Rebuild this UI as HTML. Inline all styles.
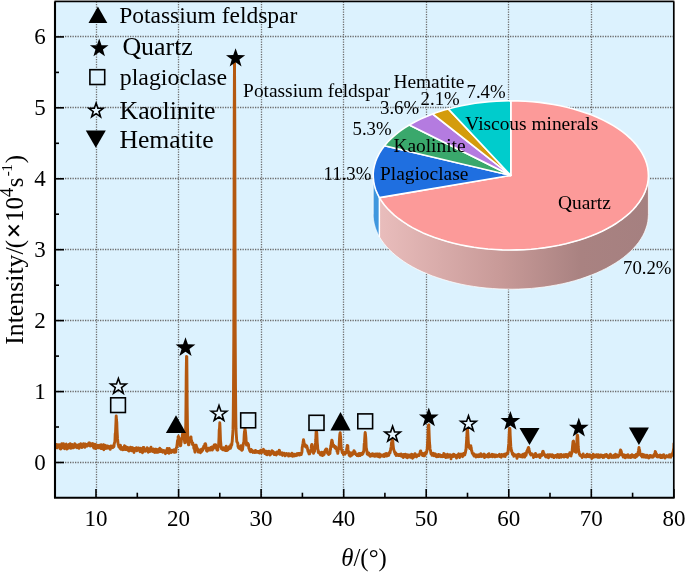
<!DOCTYPE html>
<html><head><meta charset="utf-8"><title>XRD pattern</title>
<style>
html,body{margin:0;padding:0;background:#fff;}
svg{display:block;font-family:"Liberation Serif",serif;fill:#000;}
</style></head><body>
<svg width="685" height="572" viewBox="0 0 685 572">
<defs>
<linearGradient id="qs" x1="0" y1="0" x2="1" y2="0">
<stop offset="0" stop-color="#e9bdbc"/><stop offset="0.45" stop-color="#c89a98"/><stop offset="0.75" stop-color="#a98281"/><stop offset="1" stop-color="#a58080"/>
</linearGradient>
<clipPath id="cp"><rect x="55.0" y="1.35" width="618.8" height="496.34999999999997"/></clipPath>
</defs>
<rect x="0" y="0" width="685" height="572" fill="#fff"/>
<rect x="55.0" y="1.35" width="618.8" height="496.34999999999997" fill="#dcf2fe"/>
<g stroke="#6c6c6c" stroke-width="1.3" stroke-dasharray="1.3 1.2" fill="none">
<line x1="96.5" y1="1.4" x2="96.5" y2="497.7"/><line x1="178.5" y1="1.4" x2="178.5" y2="497.7"/><line x1="261.5" y1="1.4" x2="261.5" y2="497.7"/><line x1="343.5" y1="1.4" x2="343.5" y2="497.7"/><line x1="426.5" y1="1.4" x2="426.5" y2="497.7"/><line x1="508.5" y1="1.4" x2="508.5" y2="497.7"/><line x1="591.5" y1="1.4" x2="591.5" y2="497.7"/><line x1="55.0" y1="462.5" x2="673.8" y2="462.5"/><line x1="55.0" y1="391.5" x2="673.8" y2="391.5"/><line x1="55.0" y1="320.5" x2="673.8" y2="320.5"/><line x1="55.0" y1="249.5" x2="673.8" y2="249.5"/><line x1="55.0" y1="178.5" x2="673.8" y2="178.5"/><line x1="55.0" y1="107.5" x2="673.8" y2="107.5"/><line x1="55.0" y1="36.5" x2="673.8" y2="36.5"/>
</g>
<g>
<path d="M648.4,175.4 L648.2,178.9 L647.8,182.5 L647.0,186.0 L645.9,189.4 L644.6,192.9 L642.9,196.3 L640.9,199.7 L638.7,203.0 L636.1,206.2 L633.3,209.4 L630.2,212.5 L626.8,215.5 L623.2,218.5 L619.3,221.3 L615.2,224.0 L610.8,226.6 L606.2,229.2 L601.4,231.5 L596.4,233.8 L591.2,235.9 L585.8,237.9 L580.3,239.8 L574.6,241.5 L568.8,243.1 L562.8,244.5 L556.7,245.7 L550.5,246.8 L544.2,247.8 L537.9,248.5 L531.5,249.2 L525.0,249.6 L518.5,249.9 L512.0,250.0 L505.5,249.9 L499.0,249.7 L492.5,249.3 L486.1,248.8 L479.7,248.1 L473.4,247.2 L467.2,246.2 L461.1,245.0 L455.0,243.6 L449.2,242.1 L443.4,240.4 L437.8,238.6 L432.4,236.7 L427.1,234.6 L422.0,232.4 L417.2,230.1 L412.5,227.6 L408.0,225.0 L403.8,222.3 L399.9,219.5 L396.1,216.6 L392.7,213.6 L389.5,210.6 L386.5,207.4 L383.9,204.2 L381.5,200.9 L379.4,197.6 L379.4,236.8 L381.5,240.1 L383.9,243.4 L386.5,246.6 L389.5,249.8 L392.7,252.8 L396.1,255.8 L399.9,258.7 L403.8,261.5 L408.0,264.2 L412.5,266.8 L417.2,269.3 L422.0,271.6 L427.1,273.8 L432.4,275.9 L437.8,277.8 L443.4,279.6 L449.2,281.3 L455.0,282.8 L461.1,284.2 L467.2,285.4 L473.4,286.4 L479.7,287.3 L486.1,288.0 L492.5,288.5 L499.0,288.9 L505.5,289.1 L512.0,289.2 L518.5,289.1 L525.0,288.8 L531.5,288.4 L537.9,287.7 L544.2,287.0 L550.5,286.0 L556.7,284.9 L562.8,283.7 L568.8,282.3 L574.6,280.7 L580.3,279.0 L585.8,277.1 L591.2,275.1 L596.4,273.0 L601.4,270.7 L606.2,268.4 L610.8,265.8 L615.2,263.2 L619.3,260.5 L623.2,257.7 L626.8,254.7 L630.2,251.7 L633.3,248.6 L636.1,245.4 L638.7,242.2 L640.9,238.9 L642.9,235.5 L644.6,232.1 L645.9,228.6 L647.0,225.2 L647.8,221.7 L648.2,218.1 L648.4,214.6Z" fill="url(#qs)" stroke="#fff" stroke-opacity="0.75" stroke-width="1"/><path d="M379.4,197.6 L379.2,197.2 L379.0,196.8 L378.8,196.5 L378.6,196.1 L378.4,195.8 L378.2,195.4 L378.1,195.0 L377.9,194.7 L377.7,194.3 L377.5,194.0 L377.4,193.6 L377.2,193.2 L377.0,192.9 L376.9,192.5 L376.7,192.1 L376.6,191.8 L376.4,191.4 L376.3,191.0 L376.1,190.7 L376.0,190.3 L375.8,189.9 L375.7,189.6 L375.6,189.2 L375.4,188.8 L375.3,188.5 L375.2,188.1 L375.1,187.7 L375.0,187.3 L374.9,187.0 L374.8,186.6 L374.7,186.2 L374.6,185.9 L374.5,185.5 L374.4,185.1 L374.3,184.7 L374.2,184.4 L374.1,184.0 L374.0,183.6 L374.0,183.3 L373.9,182.9 L373.8,182.5 L373.8,182.1 L373.7,181.8 L373.6,181.4 L373.6,181.0 L373.5,180.6 L373.5,180.3 L373.5,179.9 L373.4,179.5 L373.4,179.1 L373.3,178.8 L373.3,178.4 L373.3,178.0 L373.3,177.6 L373.2,177.3 L373.2,176.9 L373.2,176.5 L373.2,176.1 L373.2,175.8 L373.2,175.4 L373.2,214.6 L373.2,215.0 L373.2,215.3 L373.2,215.7 L373.2,216.1 L373.2,216.5 L373.3,216.8 L373.3,217.2 L373.3,217.6 L373.3,218.0 L373.4,218.3 L373.4,218.7 L373.5,219.1 L373.5,219.5 L373.5,219.8 L373.6,220.2 L373.6,220.6 L373.7,221.0 L373.8,221.3 L373.8,221.7 L373.9,222.1 L374.0,222.5 L374.0,222.8 L374.1,223.2 L374.2,223.6 L374.3,223.9 L374.4,224.3 L374.5,224.7 L374.6,225.1 L374.7,225.4 L374.8,225.8 L374.9,226.2 L375.0,226.5 L375.1,226.9 L375.2,227.3 L375.3,227.7 L375.4,228.0 L375.6,228.4 L375.7,228.8 L375.8,229.1 L376.0,229.5 L376.1,229.9 L376.3,230.2 L376.4,230.6 L376.6,231.0 L376.7,231.3 L376.9,231.7 L377.0,232.1 L377.2,232.4 L377.4,232.8 L377.5,233.2 L377.7,233.5 L377.9,233.9 L378.1,234.2 L378.2,234.6 L378.4,235.0 L378.6,235.3 L378.8,235.7 L379.0,236.0 L379.2,236.4 L379.4,236.8Z" fill="#3f97de" stroke="#fff" stroke-opacity="0.75" stroke-width="1"/><path d="M510.8,175.4 L510.8,100.8 L518.0,100.9 L525.2,101.2 L532.4,101.7 L539.5,102.4 L546.5,103.4 L553.4,104.5 L560.2,105.8 L566.9,107.3 L573.4,109.0 L579.8,110.9 L585.9,112.9 L591.9,115.1 L597.6,117.5 L603.1,120.1 L608.3,122.8 L613.3,125.6 L618.0,128.6 L622.3,131.7 L626.4,134.9 L630.2,138.3 L633.6,141.7 L636.7,145.3 L639.4,148.9 L641.8,152.6 L643.8,156.4 L645.5,160.2 L646.8,164.0 L647.7,167.9 L648.2,171.8 L648.4,175.7 L648.2,179.6 L647.6,183.6 L646.6,187.4 L645.2,191.3 L643.5,195.1 L641.4,198.8 L639.0,202.5 L636.2,206.1 L633.0,209.7 L629.6,213.1 L625.7,216.4 L621.6,219.6 L617.2,222.7 L612.4,225.7 L607.4,228.5 L602.2,231.2 L596.6,233.7 L590.9,236.1 L584.9,238.3 L578.7,240.3 L572.3,242.1 L565.8,243.8 L559.1,245.3 L552.3,246.5 L545.3,247.6 L538.3,248.5 L531.2,249.2 L524.0,249.7 L516.8,249.9 L509.6,250.0 L502.3,249.9 L495.1,249.5 L488.0,249.0 L480.9,248.2 L473.9,247.3 L467.0,246.1 L460.2,244.8 L453.6,243.2 L447.1,241.5 L440.8,239.6 L434.6,237.5 L428.7,235.3 L423.0,232.9 L417.6,230.3 L412.4,227.6 L407.5,224.7 L402.9,221.7 L398.5,218.5 L394.5,215.3 L390.8,211.9 L387.4,208.5 L384.4,204.9 L381.7,201.3 L379.4,197.6Z" fill="#fc9a99" stroke="#fff" stroke-width="1.6" stroke-linejoin="round"/><path d="M510.8,175.4 L379.4,197.6 L377.4,193.6 L375.7,189.7 L374.5,185.6 L373.7,181.6 L373.3,177.5 L373.2,173.5 L373.6,169.4 L374.5,165.3 L375.7,161.3 L377.3,157.3 L379.3,153.4 L381.7,149.6 L384.5,145.8Z" fill="#1f6fe0" stroke="#fff" stroke-width="1.6" stroke-linejoin="round"/><path d="M510.8,175.4 L384.5,145.8 L387.7,142.0 L391.3,138.4 L395.3,134.8 L399.6,131.4 L404.3,128.1 L409.3,125.0Z" fill="#3aa86c" stroke="#fff" stroke-width="1.6" stroke-linejoin="round"/><path d="M510.8,175.4 L409.3,125.0 L414.7,122.0 L420.5,119.1 L426.5,116.5 L432.7,114.0Z" fill="#b47be0" stroke="#fff" stroke-width="1.6" stroke-linejoin="round"/><path d="M510.8,175.4 L432.7,114.0 L436.5,112.6 L440.4,111.3 L444.3,110.1 L448.3,108.9Z" fill="#d49c0c" stroke="#fff" stroke-width="1.6" stroke-linejoin="round"/><path d="M510.8,175.4 L448.3,108.9 L454.8,107.2 L461.5,105.8 L468.3,104.5 L475.2,103.3 L482.2,102.4 L489.3,101.7 L496.4,101.2 L503.6,100.9 L510.8,100.8Z" fill="#00cccc" stroke="#fff" stroke-width="1.6" stroke-linejoin="round"/><line x1="379.4" y1="197.6" x2="379.4" y2="236.8" stroke="#fff" stroke-width="1.4"/>
</g>
<polyline clip-path="url(#cp)" points="55.0,448.8 55.2,446.1 55.5,446.7 55.8,447.2 56.0,445.7 56.2,446.6 56.5,446.6 56.8,444.5 57.0,447.9 57.2,447.4 57.5,445.8 57.8,446.4 58.0,447.2 58.2,446.3 58.5,446.3 58.8,444.8 59.0,447.2 59.2,446.7 59.5,446.9 59.8,444.6 60.0,448.6 60.2,446.7 60.5,446.0 60.8,449.0 61.0,446.4 61.2,444.7 61.5,446.0 61.8,443.6 62.0,447.8 62.2,445.9 62.5,445.5 62.8,447.8 63.0,444.4 63.2,447.1 63.5,443.8 63.8,445.6 64.0,444.9 64.2,448.2 64.5,448.6 64.8,446.0 65.0,447.4 65.2,446.1 65.5,447.0 65.8,445.4 66.0,444.2 66.2,444.1 66.5,446.8 66.8,449.1 67.0,446.6 67.2,445.6 67.5,448.7 67.8,446.6 68.0,446.4 68.2,446.6 68.5,446.1 68.8,445.8 69.0,444.4 69.2,446.8 69.5,446.1 69.8,447.7 70.0,445.7 70.2,443.8 70.5,446.0 70.8,448.3 71.0,445.6 71.2,445.0 71.5,444.6 71.8,444.7 72.0,445.7 72.2,444.5 72.5,447.9 72.8,445.6 73.0,446.1 73.2,447.8 73.5,447.8 73.8,445.6 74.0,446.3 74.2,446.8 74.5,445.6 74.8,443.6 75.0,446.7 75.2,446.9 75.5,446.3 75.8,444.6 76.0,445.5 76.2,445.0 76.5,445.3 76.8,447.3 77.0,447.6 77.2,446.5 77.5,446.3 77.8,446.5 78.0,445.6 78.2,445.5 78.5,444.7 78.8,445.5 79.0,448.4 79.2,446.6 79.5,445.1 79.8,444.9 80.0,444.4 80.2,445.9 80.5,445.9 80.8,443.6 81.0,446.0 81.2,444.6 81.5,447.2 81.8,445.5 82.0,447.5 82.2,444.7 82.5,444.9 82.8,445.6 83.0,446.6 83.2,446.0 83.5,443.6 83.8,445.4 84.0,445.2 84.2,444.6 84.5,444.3 84.8,447.4 85.0,444.6 85.2,444.0 85.5,445.9 85.8,445.2 86.0,444.9 86.2,446.0 86.5,445.6 86.8,445.4 87.0,446.2 87.2,445.4 87.5,444.3 87.8,444.6 88.0,444.5 88.2,445.4 88.5,443.8 88.8,442.9 89.0,445.4 89.2,443.6 89.5,442.9 89.8,445.9 90.0,444.5 90.2,446.1 90.5,444.8 90.8,444.1 91.0,444.0 91.2,445.0 91.5,445.3 91.8,444.6 92.0,445.4 92.2,443.8 92.5,445.8 92.8,443.6 93.0,445.6 93.2,446.8 93.5,447.3 93.8,448.1 94.0,444.1 94.2,447.0 94.5,447.6 94.8,447.3 95.0,445.0 95.2,446.7 95.5,448.5 95.8,444.4 96.0,446.9 96.2,447.7 96.5,445.5 96.8,447.1 97.0,445.1 97.2,445.5 97.5,445.5 97.8,446.8 98.0,446.5 98.2,447.8 98.5,445.5 98.8,446.5 99.0,447.9 99.2,447.4 99.5,445.2 99.8,447.6 100.0,446.3 100.2,447.4 100.5,447.3 100.8,448.4 101.0,447.1 101.2,444.8 101.5,445.4 101.8,448.0 102.0,446.8 102.2,448.5 102.5,447.5 102.8,446.3 103.0,448.5 103.2,446.2 103.5,444.8 103.8,449.7 104.0,445.0 104.2,448.0 104.5,448.4 104.8,447.5 105.0,445.3 105.2,448.5 105.5,445.6 105.8,445.7 106.0,446.9 106.2,448.3 106.5,447.7 106.8,448.3 107.0,446.8 107.2,447.2 107.5,446.0 107.8,447.0 108.0,448.1 108.2,447.0 108.5,447.9 108.8,446.7 109.0,446.6 109.2,447.4 109.5,447.1 109.8,448.0 110.0,447.5 110.2,449.3 110.5,447.0 110.8,446.9 111.0,445.9 111.2,447.1 111.5,447.9 111.8,446.1 112.0,446.8 112.2,447.6 112.5,446.5 112.8,445.9 113.0,447.5 113.2,446.2 113.5,446.3 113.8,446.8 114.0,446.3 114.2,443.9 114.5,442.8 114.8,442.3 115.0,439.5 115.2,433.9 115.5,432.7 115.8,425.3 116.0,420.8 116.2,415.9 116.5,420.0 116.8,422.4 117.0,428.9 117.2,432.8 117.5,438.4 117.8,441.1 118.0,442.9 118.2,444.7 118.5,445.1 118.8,446.7 119.0,445.5 119.2,445.2 119.5,446.6 119.8,447.6 120.0,448.5 120.2,448.2 120.5,445.3 120.8,448.0 121.0,449.3 121.2,447.8 121.5,447.2 121.8,448.2 122.0,447.4 122.2,448.8 122.5,448.1 122.8,449.7 123.0,448.8 123.2,447.4 123.5,449.0 123.8,449.4 124.0,447.7 124.2,447.9 124.5,445.8 124.8,449.5 125.0,447.8 125.2,446.1 125.5,446.5 125.8,448.3 126.0,449.5 126.2,448.5 126.5,449.2 126.8,447.4 127.0,447.2 127.2,449.7 127.5,449.3 127.8,448.7 128.0,450.3 128.2,447.7 128.5,448.4 128.8,450.0 129.0,451.0 129.2,448.9 129.5,450.8 129.8,448.3 130.0,449.3 130.2,448.8 130.5,447.2 130.8,449.3 131.0,450.1 131.2,448.9 131.5,449.0 131.8,450.7 132.0,447.7 132.2,447.5 132.5,448.4 132.8,447.8 133.0,450.7 133.2,449.6 133.5,448.3 133.8,448.6 134.0,452.5 134.2,448.6 134.5,448.5 134.8,449.7 135.0,450.1 135.2,449.6 135.5,448.4 135.8,448.1 136.0,450.1 136.2,449.4 136.5,447.6 136.8,450.8 137.0,450.4 137.2,449.3 137.5,449.2 137.8,449.8 138.0,448.8 138.2,448.1 138.5,450.0 138.8,448.0 139.0,450.1 139.2,448.1 139.5,449.6 139.8,449.6 140.0,451.7 140.2,448.6 140.5,448.2 140.8,449.1 141.0,448.6 141.2,449.2 141.5,450.3 141.8,450.7 142.0,451.7 142.2,449.1 142.5,452.8 142.8,452.1 143.0,449.7 143.2,447.4 143.5,449.9 143.8,450.1 144.0,447.5 144.2,450.1 144.5,449.8 144.8,449.2 145.0,450.8 145.2,451.2 145.5,449.6 145.8,450.4 146.0,449.4 146.2,449.3 146.5,450.3 146.8,450.8 147.0,449.6 147.2,447.8 147.5,450.9 147.8,448.5 148.0,450.4 148.2,452.2 148.5,450.3 148.8,449.1 149.0,448.8 149.2,451.6 149.5,450.4 149.8,451.0 150.0,451.4 150.2,450.4 150.5,450.1 150.8,449.5 151.0,447.2 151.2,448.9 151.5,450.5 151.8,450.4 152.0,451.0 152.2,450.4 152.5,450.8 152.8,451.5 153.0,449.7 153.2,450.3 153.5,449.0 153.8,451.7 154.0,450.7 154.2,451.2 154.5,452.4 154.8,451.9 155.0,450.7 155.2,451.6 155.5,449.3 155.8,451.3 156.0,451.0 156.2,449.1 156.5,452.3 156.8,450.1 157.0,451.6 157.2,450.5 157.5,452.0 157.8,452.3 158.0,450.1 158.2,449.4 158.5,450.9 158.8,451.9 159.0,450.7 159.2,450.4 159.5,451.6 159.8,448.2 160.0,450.4 160.2,449.7 160.5,451.5 160.8,450.4 161.0,450.0 161.2,450.8 161.5,449.7 161.8,451.2 162.0,450.5 162.2,450.9 162.5,450.5 162.8,452.2 163.0,451.2 163.2,451.9 163.5,451.8 163.8,450.5 164.0,452.0 164.2,451.8 164.5,451.7 164.8,451.0 165.0,451.0 165.2,452.3 165.5,453.7 165.8,450.6 166.0,452.0 166.2,451.0 166.5,452.2 166.8,451.9 167.0,452.5 167.2,448.5 167.5,450.8 167.8,450.4 168.0,451.3 168.2,450.6 168.5,450.7 168.8,452.1 169.0,453.3 169.2,448.4 169.5,451.0 169.8,451.7 170.0,451.3 170.2,451.0 170.5,449.9 170.8,450.3 171.0,452.0 171.2,452.4 171.5,451.3 171.8,450.4 172.0,451.3 172.2,451.0 172.5,451.8 172.8,451.3 173.0,450.5 173.2,451.3 173.5,449.9 173.8,452.0 174.0,452.3 174.2,449.9 174.5,451.5 174.8,450.0 175.0,452.2 175.2,452.0 175.5,450.8 175.8,452.0 176.0,449.7 176.2,448.4 176.5,447.4 176.8,446.9 177.0,444.9 177.2,443.6 177.5,440.6 177.8,440.6 178.0,439.0 178.2,436.7 178.5,436.3 178.8,440.1 179.0,441.6 179.2,440.7 179.5,440.0 179.8,443.0 180.0,445.6 180.2,442.0 180.5,445.9 180.8,445.2 181.0,442.5 181.2,442.5 181.5,438.1 181.8,438.3 182.0,438.8 182.2,436.5 182.5,434.4 182.8,432.4 183.0,433.2 183.2,432.7 183.5,437.7 183.8,435.4 184.0,436.3 184.2,438.3 184.5,441.0 184.8,442.7 185.0,440.7 185.2,442.6 185.5,434.3 185.8,422.0 186.0,401.4 186.2,375.4 186.5,356.4 186.8,356.6 187.0,379.7 187.2,407.0 187.5,427.8 187.8,438.3 188.0,441.3 188.2,442.8 188.5,444.8 188.8,442.3 189.0,444.7 189.2,442.0 189.5,439.4 189.8,439.3 190.0,437.9 190.2,437.7 190.5,439.7 190.8,436.9 191.0,436.9 191.2,440.5 191.5,440.3 191.8,441.5 192.0,442.6 192.2,442.5 192.5,444.5 192.8,442.9 193.0,444.9 193.2,444.5 193.5,444.8 193.8,447.9 194.0,448.8 194.2,446.9 194.5,448.9 194.8,451.3 195.0,452.2 195.2,449.0 195.5,448.1 195.8,445.3 196.0,448.8 196.2,445.3 196.5,446.7 196.8,447.2 197.0,448.4 197.2,448.8 197.5,448.6 197.8,450.6 198.0,450.7 198.2,452.0 198.5,449.9 198.8,450.1 199.0,451.4 199.2,452.0 199.5,450.8 199.8,449.9 200.0,450.5 200.2,450.1 200.5,452.7 200.8,451.6 201.0,451.7 201.2,450.5 201.5,449.3 201.8,451.0 202.0,451.3 202.2,449.9 202.5,449.0 202.8,450.0 203.0,448.1 203.2,449.2 203.5,447.2 203.8,446.2 204.0,447.4 204.2,446.4 204.5,447.7 204.8,444.2 205.0,444.5 205.2,443.8 205.5,443.8 205.8,444.8 206.0,448.3 206.2,447.2 206.5,450.6 206.8,450.9 207.0,449.0 207.2,451.2 207.5,449.6 207.8,450.6 208.0,449.1 208.2,450.4 208.5,448.3 208.8,450.0 209.0,448.8 209.2,449.2 209.5,450.0 209.8,449.5 210.0,449.2 210.2,450.0 210.5,450.0 210.8,447.4 211.0,449.5 211.2,449.5 211.5,447.8 211.8,449.0 212.0,446.9 212.2,450.0 212.5,447.9 212.8,448.0 213.0,449.3 213.2,447.5 213.5,448.1 213.8,445.9 214.0,446.2 214.2,444.9 214.5,446.0 214.8,447.3 215.0,446.0 215.2,446.6 215.5,444.6 215.8,445.4 216.0,446.5 216.2,448.3 216.5,448.6 216.8,448.7 217.0,449.9 217.2,449.0 217.5,449.0 217.8,450.2 218.0,447.6 218.2,447.4 218.5,446.9 218.8,441.6 219.0,437.1 219.2,430.0 219.5,428.5 219.8,422.8 220.0,426.6 220.2,431.8 220.5,440.3 220.8,443.5 221.0,445.8 221.2,446.3 221.5,448.9 221.8,449.0 222.0,448.3 222.2,447.6 222.5,448.1 222.8,449.6 223.0,449.8 223.2,449.6 223.5,449.4 223.8,447.7 224.0,449.7 224.2,448.5 224.5,449.7 224.8,450.1 225.0,448.9 225.2,448.5 225.5,450.6 225.8,449.9 226.0,448.8 226.2,446.2 226.5,449.4 226.8,450.1 227.0,450.5 227.2,448.5 227.5,448.5 227.8,448.6 228.0,449.9 228.2,447.7 228.5,448.7 228.8,447.7 229.0,448.8 229.2,446.7 229.5,448.6 229.8,447.4 230.0,447.5 230.2,448.0 230.5,448.3 230.8,444.8 231.0,447.1 231.2,446.0 231.5,444.3 231.8,445.0 232.0,442.4 232.2,441.7 232.5,437.2 232.8,433.3 233.0,429.4 233.2,418.1 233.5,389.2 233.8,333.2 234.0,236.7 234.2,118.7 234.5,56.7 234.8,121.7 235.0,235.2 235.2,331.7 235.5,386.5 235.8,415.9 236.0,428.9 236.2,432.8 236.5,437.3 236.8,441.7 237.0,441.9 237.2,442.1 237.5,443.0 237.8,443.1 238.0,446.7 238.2,445.6 238.5,447.9 238.8,448.0 239.0,446.7 239.2,447.0 239.5,448.6 239.8,448.1 240.0,448.3 240.2,446.4 240.5,449.2 240.8,447.3 241.0,445.8 241.2,447.6 241.5,448.6 241.8,450.3 242.0,447.5 242.2,446.3 242.5,449.7 242.8,447.2 243.0,446.1 243.2,444.3 243.5,442.9 243.8,443.4 244.0,438.7 244.2,434.9 244.5,431.3 244.8,430.7 245.0,427.4 245.2,429.7 245.5,432.1 245.8,435.6 246.0,437.9 246.2,442.3 246.5,445.1 246.8,444.4 247.0,443.8 247.2,443.1 247.5,444.1 247.8,443.3 248.0,443.7 248.2,444.7 248.5,444.5 248.8,448.1 249.0,448.5 249.2,449.0 249.5,449.8 249.8,450.9 250.0,450.3 250.2,449.6 250.5,451.8 250.8,450.3 251.0,450.1 251.2,449.4 251.5,451.1 251.8,450.1 252.0,450.7 252.2,451.7 252.5,451.4 252.8,452.4 253.0,451.8 253.2,451.1 253.5,451.2 253.8,451.1 254.0,452.3 254.2,451.7 254.5,451.3 254.8,452.6 255.0,451.9 255.2,451.4 255.5,450.4 255.8,452.3 256.0,452.1 256.2,452.0 256.5,451.5 256.8,451.2 257.0,451.8 257.2,452.3 257.5,451.9 257.8,451.9 258.0,451.6 258.2,452.4 258.5,452.4 258.8,451.4 259.0,452.9 259.2,452.9 259.5,453.0 259.8,452.0 260.0,452.0 260.2,451.0 260.5,452.9 260.8,450.1 261.0,451.7 261.2,451.7 261.5,452.8 261.8,451.8 262.0,450.7 262.2,449.9 262.5,450.2 262.8,450.6 263.0,450.2 263.2,449.8 263.5,449.4 263.8,450.2 264.0,451.8 264.2,450.3 264.5,451.7 264.8,453.6 265.0,452.8 265.2,451.9 265.5,453.1 265.8,451.9 266.0,452.6 266.2,454.2 266.5,454.5 266.8,451.2 267.0,453.5 267.2,454.7 267.5,452.4 267.8,453.2 268.0,454.4 268.2,452.5 268.5,453.4 268.8,453.0 269.0,451.2 269.2,453.4 269.5,452.9 269.8,454.0 270.0,455.1 270.2,453.7 270.5,452.8 270.8,453.5 271.0,453.3 271.2,454.0 271.5,451.6 271.8,451.7 272.0,450.6 272.2,452.8 272.5,452.0 272.8,451.4 273.0,451.5 273.2,451.9 273.5,451.9 273.8,452.7 274.0,452.7 274.2,454.6 274.5,453.7 274.8,452.7 275.0,452.9 275.2,454.6 275.5,453.9 275.8,453.8 276.0,454.2 276.2,455.0 276.5,452.4 276.8,452.8 277.0,451.9 277.2,453.9 277.5,453.1 277.8,452.7 278.0,452.4 278.2,453.4 278.5,452.2 278.8,451.3 279.0,452.5 279.2,450.3 279.5,450.4 279.8,454.4 280.0,452.3 280.2,452.6 280.5,452.7 280.8,453.4 281.0,454.4 281.2,454.4 281.5,454.3 281.8,453.7 282.0,452.6 282.2,454.2 282.5,455.4 282.8,455.0 283.0,453.9 283.2,454.8 283.5,453.8 283.8,454.1 284.0,453.1 284.2,453.9 284.5,454.3 284.8,454.1 285.0,454.9 285.2,455.9 285.5,455.5 285.8,454.1 286.0,453.7 286.2,453.8 286.5,453.5 286.8,454.4 287.0,454.8 287.2,454.6 287.5,454.6 287.8,454.6 288.0,454.3 288.2,453.8 288.5,456.0 288.8,455.4 289.0,453.7 289.2,453.8 289.5,454.0 289.8,454.6 290.0,455.7 290.2,455.5 290.5,455.5 290.8,455.5 291.0,455.6 291.2,455.3 291.5,455.0 291.8,454.6 292.0,453.2 292.2,454.6 292.5,456.2 292.8,454.2 293.0,454.2 293.2,455.6 293.5,454.8 293.8,454.3 294.0,456.1 294.2,455.3 294.5,455.4 294.8,454.3 295.0,455.2 295.2,455.1 295.5,455.4 295.8,455.7 296.0,455.7 296.2,454.9 296.5,455.3 296.8,453.7 297.0,455.2 297.2,455.2 297.5,454.3 297.8,453.9 298.0,454.5 298.2,453.4 298.5,454.7 298.8,454.6 299.0,453.5 299.2,454.2 299.5,455.0 299.8,454.9 300.0,454.7 300.2,453.6 300.5,453.2 300.8,453.0 301.0,453.5 301.2,454.6 301.5,453.3 301.8,452.7 302.0,451.4 302.2,447.3 302.5,446.5 302.8,444.0 303.0,443.3 303.2,442.1 303.5,439.7 303.8,441.0 304.0,442.7 304.2,443.3 304.5,444.3 304.8,444.8 305.0,446.2 305.2,444.7 305.5,446.3 305.8,445.5 306.0,446.3 306.2,447.3 306.5,445.7 306.8,445.9 307.0,447.5 307.2,447.3 307.5,448.7 307.8,450.4 308.0,451.5 308.2,451.0 308.5,452.1 308.8,453.1 309.0,453.9 309.2,451.2 309.5,453.9 309.8,453.4 310.0,451.6 310.2,451.0 310.5,452.0 310.8,450.3 311.0,449.4 311.2,448.2 311.5,445.3 311.8,444.4 312.0,444.5 312.2,445.9 312.5,448.3 312.8,450.1 313.0,450.2 313.2,450.7 313.5,453.4 313.8,452.1 314.0,451.9 314.2,450.4 314.5,451.5 314.8,449.4 315.0,448.4 315.2,445.5 315.5,442.9 315.8,439.2 316.0,433.6 316.2,431.1 316.5,431.5 316.8,433.1 317.0,437.4 317.2,442.1 317.5,445.2 317.8,449.3 318.0,449.6 318.2,452.0 318.5,452.8 318.8,451.5 319.0,452.9 319.2,452.8 319.5,452.4 319.8,453.3 320.0,453.5 320.2,454.4 320.5,454.8 320.8,453.1 321.0,453.7 321.2,454.5 321.5,455.1 321.8,452.1 322.0,455.2 322.2,454.0 322.5,455.5 322.8,453.8 323.0,453.4 323.2,454.1 323.5,455.0 323.8,454.0 324.0,451.9 324.2,454.2 324.5,452.1 324.8,452.2 325.0,451.5 325.2,450.3 325.5,449.9 325.8,449.3 326.0,449.0 326.2,449.3 326.5,449.4 326.8,449.1 327.0,450.9 327.2,452.6 327.5,453.2 327.8,452.9 328.0,453.5 328.2,453.9 328.5,454.3 328.8,454.5 329.0,452.7 329.2,452.6 329.5,453.8 329.8,453.6 330.0,453.1 330.2,449.1 330.5,449.8 330.8,445.7 331.0,447.0 331.2,444.1 331.5,442.0 331.8,440.3 332.0,441.1 332.2,440.6 332.5,443.2 332.8,444.4 333.0,445.5 333.2,446.3 333.5,446.2 333.8,445.1 334.0,446.5 334.2,446.6 334.5,446.3 334.8,447.5 335.0,448.1 335.2,446.5 335.5,447.5 335.8,447.3 336.0,447.1 336.2,448.8 336.5,448.7 336.8,450.0 337.0,451.2 337.2,451.7 337.5,451.8 337.8,453.4 338.0,450.8 338.2,451.0 338.5,449.0 338.8,449.0 339.0,447.3 339.2,444.0 339.5,438.3 339.8,434.6 340.0,433.5 340.2,432.7 340.5,436.5 340.8,439.1 341.0,445.2 341.2,448.1 341.5,449.8 341.8,450.1 342.0,451.5 342.2,452.4 342.5,452.9 342.8,452.9 343.0,453.0 343.2,453.5 343.5,454.7 343.8,452.0 344.0,452.6 344.2,452.5 344.5,453.2 344.8,452.3 345.0,454.1 345.2,453.6 345.5,453.1 345.8,452.4 346.0,452.6 346.2,451.7 346.5,450.5 346.8,448.1 347.0,447.8 347.2,445.4 347.5,447.9 347.8,445.6 348.0,449.2 348.2,450.2 348.5,453.0 348.8,451.8 349.0,455.0 349.2,452.5 349.5,455.7 349.8,454.5 350.0,454.3 350.2,454.7 350.5,456.2 350.8,455.2 351.0,452.6 351.2,455.5 351.5,454.7 351.8,453.1 352.0,455.1 352.2,453.4 352.5,454.4 352.8,454.3 353.0,453.3 353.2,453.8 353.5,451.7 353.8,452.0 354.0,450.7 354.2,450.8 354.5,453.0 354.8,452.2 355.0,452.0 355.2,453.5 355.5,453.4 355.8,454.3 356.0,454.6 356.2,454.6 356.5,454.7 356.8,454.2 357.0,455.1 357.2,455.6 357.5,454.2 357.8,454.7 358.0,454.8 358.2,455.8 358.5,455.7 358.8,454.2 359.0,454.8 359.2,453.5 359.5,453.9 359.8,454.7 360.0,455.2 360.2,455.4 360.5,454.3 360.8,453.4 361.0,454.8 361.2,454.2 361.5,454.6 361.8,454.2 362.0,454.5 362.2,454.3 362.5,454.2 362.8,452.8 363.0,453.6 363.2,451.8 363.5,451.5 363.8,451.7 364.0,448.4 364.2,444.1 364.5,442.2 364.8,437.4 365.0,434.1 365.2,432.5 365.5,434.6 365.8,438.1 366.0,442.2 366.2,447.7 366.5,448.8 366.8,450.4 367.0,451.5 367.2,454.1 367.5,453.8 367.8,453.1 368.0,453.7 368.2,454.4 368.5,454.9 368.8,453.0 369.0,455.2 369.2,454.4 369.5,454.1 369.8,454.4 370.0,455.5 370.2,456.3 370.5,455.0 370.8,455.4 371.0,454.3 371.2,455.4 371.5,455.7 371.8,453.9 372.0,454.7 372.2,455.8 372.5,453.7 372.8,454.9 373.0,455.7 373.2,453.9 373.5,454.9 373.8,455.3 374.0,456.0 374.2,454.2 374.5,456.2 374.8,455.6 375.0,456.3 375.2,456.3 375.5,455.6 375.8,455.7 376.0,453.9 376.2,454.3 376.5,454.6 376.8,455.1 377.0,456.1 377.2,453.9 377.5,455.1 377.8,454.3 378.0,454.1 378.2,456.6 378.5,455.5 378.8,456.7 379.0,456.4 379.2,454.7 379.5,453.9 379.8,457.1 380.0,455.1 380.2,454.5 380.5,456.0 380.8,455.5 381.0,454.9 381.2,455.1 381.5,455.5 381.8,455.5 382.0,456.0 382.2,455.1 382.5,455.1 382.8,455.9 383.0,455.6 383.2,456.2 383.5,455.1 383.8,455.3 384.0,454.4 384.2,456.5 384.5,454.2 384.8,455.4 385.0,454.5 385.2,455.5 385.5,455.8 385.8,453.8 386.0,454.9 386.2,453.7 386.5,456.1 386.8,454.6 387.0,453.6 387.2,454.3 387.5,455.8 387.8,455.8 388.0,455.6 388.2,453.8 388.5,454.1 388.8,455.4 389.0,453.3 389.2,453.3 389.5,452.5 389.8,451.8 390.0,453.1 390.2,451.7 390.5,450.4 390.8,449.1 391.0,447.7 391.2,446.2 391.5,443.1 391.8,441.2 392.0,439.6 392.2,441.0 392.5,440.3 392.8,440.9 393.0,443.6 393.2,445.8 393.5,448.3 393.8,450.1 394.0,450.1 394.2,451.0 394.5,452.2 394.8,452.1 395.0,453.4 395.2,454.2 395.5,454.1 395.8,453.0 396.0,453.5 396.2,455.6 396.5,453.9 396.8,455.4 397.0,455.4 397.2,454.8 397.5,454.3 397.8,455.3 398.0,454.5 398.2,455.1 398.5,455.4 398.8,454.8 399.0,455.2 399.2,455.2 399.5,454.5 399.8,455.4 400.0,455.0 400.2,454.1 400.5,455.3 400.8,455.4 401.0,455.1 401.2,454.0 401.5,456.3 401.8,456.2 402.0,456.2 402.2,455.9 402.5,454.7 402.8,455.8 403.0,455.0 403.2,457.5 403.5,455.3 403.8,456.3 404.0,454.5 404.2,454.8 404.5,455.3 404.8,456.3 405.0,456.2 405.2,456.0 405.5,454.3 405.8,456.7 406.0,455.0 406.2,457.1 406.5,457.3 406.8,456.4 407.0,456.6 407.2,454.8 407.5,457.8 407.8,456.0 408.0,456.6 408.2,455.1 408.5,455.7 408.8,454.9 409.0,455.6 409.2,455.8 409.5,456.0 409.8,456.9 410.0,456.2 410.2,456.0 410.5,455.8 410.8,457.4 411.0,455.3 411.2,456.7 411.5,454.2 411.8,455.1 412.0,456.1 412.2,455.7 412.5,458.2 412.8,457.8 413.0,454.6 413.2,454.9 413.5,455.6 413.8,457.1 414.0,456.6 414.2,456.0 414.5,454.6 414.8,455.0 415.0,453.6 415.2,454.5 415.5,456.0 415.8,456.3 416.0,454.6 416.2,455.7 416.5,456.9 416.8,455.7 417.0,455.3 417.2,456.0 417.5,455.8 417.8,455.4 418.0,454.9 418.2,454.8 418.5,455.1 418.8,454.4 419.0,455.6 419.2,454.7 419.5,454.1 419.8,453.9 420.0,452.6 420.2,451.8 420.5,450.9 420.8,451.0 421.0,453.9 421.2,452.4 421.5,453.2 421.8,453.5 422.0,454.7 422.2,455.1 422.5,455.6 422.8,454.7 423.0,453.5 423.2,455.2 423.5,455.7 423.8,454.9 424.0,454.7 424.2,455.2 424.5,455.8 424.8,454.5 425.0,453.3 425.2,453.8 425.5,453.8 425.8,452.3 426.0,453.9 426.2,452.2 426.5,452.6 426.8,451.5 427.0,449.8 427.2,449.2 427.5,444.2 427.8,439.4 428.0,434.3 428.2,429.1 428.5,425.0 428.8,424.7 429.0,430.0 429.2,435.8 429.5,442.7 429.8,445.3 430.0,448.7 430.2,449.9 430.5,450.4 430.8,452.5 431.0,453.7 431.2,452.7 431.5,453.3 431.8,453.2 432.0,455.4 432.2,454.0 432.5,455.2 432.8,454.2 433.0,455.0 433.2,454.6 433.5,453.3 433.8,455.3 434.0,455.7 434.2,453.7 434.5,455.2 434.8,455.1 435.0,454.6 435.2,455.3 435.5,454.0 435.8,455.7 436.0,456.5 436.2,454.6 436.5,455.6 436.8,456.8 437.0,455.7 437.2,455.3 437.5,455.0 437.8,455.8 438.0,455.6 438.2,456.2 438.5,454.5 438.8,456.6 439.0,455.4 439.2,456.3 439.5,455.2 439.8,454.7 440.0,455.3 440.2,455.0 440.5,455.5 440.8,456.3 441.0,456.6 441.2,456.0 441.5,455.4 441.8,455.5 442.0,456.3 442.2,456.7 442.5,455.6 442.8,455.7 443.0,455.2 443.2,456.0 443.5,456.6 443.8,453.5 444.0,456.0 444.2,455.4 444.5,454.0 444.8,456.1 445.0,455.8 445.2,456.1 445.5,454.8 445.8,457.5 446.0,455.9 446.2,455.6 446.5,457.1 446.8,456.4 447.0,456.5 447.2,456.8 447.5,454.2 447.8,457.2 448.0,455.6 448.2,456.1 448.5,456.6 448.8,455.3 449.0,456.1 449.2,456.5 449.5,455.8 449.8,456.2 450.0,454.6 450.2,454.9 450.5,454.9 450.8,456.1 451.0,458.8 451.2,456.0 451.5,455.7 451.8,455.8 452.0,456.6 452.2,456.4 452.5,454.9 452.8,456.6 453.0,455.8 453.2,456.5 453.5,454.2 453.8,454.6 454.0,456.3 454.2,454.4 454.5,456.1 454.8,456.1 455.0,455.9 455.2,456.1 455.5,456.0 455.8,456.1 456.0,455.4 456.2,455.7 456.5,458.1 456.8,456.6 457.0,456.2 457.2,456.0 457.5,455.1 457.8,455.9 458.0,455.5 458.2,456.4 458.5,454.9 458.8,453.8 459.0,455.2 459.2,456.2 459.5,457.5 459.8,456.4 460.0,454.8 460.2,455.4 460.5,454.8 460.8,455.3 461.0,454.7 461.2,454.1 461.5,455.7 461.8,455.5 462.0,455.1 462.2,455.5 462.5,456.7 462.8,455.1 463.0,454.7 463.2,455.5 463.5,453.4 463.8,455.2 464.0,453.8 464.2,453.5 464.5,454.0 464.8,454.9 465.0,452.6 465.2,453.4 465.5,452.2 465.8,449.8 466.0,449.9 466.2,445.9 466.5,441.6 466.8,437.2 467.0,432.3 467.2,429.8 467.5,428.3 467.8,432.8 468.0,436.4 468.2,440.4 468.5,444.0 468.8,447.2 469.0,446.7 469.2,446.9 469.5,447.8 469.8,448.6 470.0,447.8 470.2,447.3 470.5,446.9 470.8,445.6 471.0,447.7 471.2,447.5 471.5,450.6 471.8,450.9 472.0,451.8 472.2,453.0 472.5,453.5 472.8,453.9 473.0,454.3 473.2,453.9 473.5,453.5 473.8,455.0 474.0,456.0 474.2,455.7 474.5,454.9 474.8,455.6 475.0,454.8 475.2,455.6 475.5,454.8 475.8,455.5 476.0,457.0 476.2,456.0 476.5,456.7 476.8,454.9 477.0,455.0 477.2,455.5 477.5,456.0 477.8,455.4 478.0,456.4 478.2,455.2 478.5,456.7 478.8,456.4 479.0,454.8 479.2,456.2 479.5,455.5 479.8,456.5 480.0,455.3 480.2,456.0 480.5,456.2 480.8,453.6 481.0,454.3 481.2,455.9 481.5,455.7 481.8,456.6 482.0,456.0 482.2,454.8 482.5,456.1 482.8,455.2 483.0,455.6 483.2,455.4 483.5,456.1 483.8,454.7 484.0,454.9 484.2,454.1 484.5,457.5 484.8,455.0 485.0,455.2 485.2,454.9 485.5,455.3 485.8,455.5 486.0,456.3 486.2,456.0 486.5,456.1 486.8,455.4 487.0,455.8 487.2,456.8 487.5,455.8 487.8,456.1 488.0,454.3 488.2,456.3 488.5,456.1 488.8,456.9 489.0,453.7 489.2,455.9 489.5,455.8 489.8,455.9 490.0,455.4 490.2,456.0 490.5,456.4 490.8,455.9 491.0,455.6 491.2,455.7 491.5,455.5 491.8,455.9 492.0,455.3 492.2,454.3 492.5,456.9 492.8,454.5 493.0,455.8 493.2,454.8 493.5,455.6 493.8,455.1 494.0,455.8 494.2,455.2 494.5,454.8 494.8,456.1 495.0,456.9 495.2,456.1 495.5,455.9 495.8,455.0 496.0,455.7 496.2,456.2 496.5,455.3 496.8,456.5 497.0,455.8 497.2,456.1 497.5,455.4 497.8,455.4 498.0,456.0 498.2,456.1 498.5,456.0 498.8,455.0 499.0,455.2 499.2,455.7 499.5,454.3 499.8,456.6 500.0,456.0 500.2,455.7 500.5,455.1 500.8,456.3 501.0,455.5 501.2,457.2 501.5,456.0 501.8,454.5 502.0,456.2 502.2,455.2 502.5,455.2 502.8,455.4 503.0,455.4 503.2,455.7 503.5,456.1 503.8,455.8 504.0,454.8 504.2,454.3 504.5,454.6 504.8,455.5 505.0,455.8 505.2,456.5 505.5,453.9 505.8,454.9 506.0,454.5 506.2,454.2 506.5,454.5 506.8,453.9 507.0,453.6 507.2,452.9 507.5,453.2 507.8,453.1 508.0,452.6 508.2,449.3 508.5,446.4 508.8,443.4 509.0,438.0 509.2,434.2 509.5,428.7 509.8,428.3 510.0,429.6 510.2,435.2 510.5,440.9 510.8,446.4 511.0,447.8 511.2,450.7 511.5,450.1 511.8,451.6 512.0,452.5 512.2,453.2 512.5,454.3 512.8,454.7 513.0,453.2 513.2,455.0 513.5,453.9 513.8,456.3 514.0,455.2 514.2,455.2 514.5,455.0 514.8,455.2 515.0,455.3 515.2,454.8 515.5,456.0 515.8,455.6 516.0,456.0 516.2,455.4 516.5,456.0 516.8,454.9 517.0,458.3 517.2,455.0 517.5,455.2 517.8,456.3 518.0,456.6 518.2,455.0 518.5,454.3 518.8,454.5 519.0,454.8 519.2,455.0 519.5,455.5 519.8,456.4 520.0,456.5 520.2,455.2 520.5,456.1 520.8,456.3 521.0,456.7 521.2,455.5 521.5,455.0 521.8,456.2 522.0,456.8 522.2,455.1 522.5,457.1 522.8,456.9 523.0,455.3 523.2,454.2 523.5,455.0 523.8,455.1 524.0,455.8 524.2,454.0 524.5,457.1 524.8,457.0 525.0,454.5 525.2,453.5 525.5,454.7 525.8,454.9 526.0,455.4 526.2,454.5 526.5,453.3 526.8,451.3 527.0,452.4 527.2,451.8 527.5,449.8 527.8,449.4 528.0,448.6 528.2,448.0 528.5,447.4 528.8,449.1 529.0,448.6 529.2,451.8 529.5,451.0 529.8,452.9 530.0,452.7 530.2,454.1 530.5,454.1 530.8,454.9 531.0,454.1 531.2,453.6 531.5,454.8 531.8,454.9 532.0,454.1 532.2,454.8 532.5,454.1 532.8,455.5 533.0,455.2 533.2,455.5 533.5,457.6 533.8,455.7 534.0,455.9 534.2,456.1 534.5,455.5 534.8,455.2 535.0,456.4 535.2,456.5 535.5,453.4 535.8,455.6 536.0,455.5 536.2,455.3 536.5,456.7 536.8,455.3 537.0,456.4 537.2,455.3 537.5,455.4 537.8,456.3 538.0,455.2 538.2,455.6 538.5,454.9 538.8,455.0 539.0,456.3 539.2,456.2 539.5,454.8 539.8,454.7 540.0,457.6 540.2,455.1 540.5,454.8 540.8,455.9 541.0,454.8 541.2,454.9 541.5,455.7 541.8,455.5 542.0,454.0 542.2,454.4 542.5,452.3 542.8,451.4 543.0,451.2 543.2,451.3 543.5,452.8 543.8,453.6 544.0,453.5 544.2,454.8 544.5,454.6 544.8,454.8 545.0,455.3 545.2,456.3 545.5,455.8 545.8,456.6 546.0,456.9 546.2,455.7 546.5,455.3 546.8,455.2 547.0,456.0 547.2,456.5 547.5,457.1 547.8,454.8 548.0,456.6 548.2,456.7 548.5,457.8 548.8,456.0 549.0,455.9 549.2,454.7 549.5,455.3 549.8,455.0 550.0,455.1 550.2,455.2 550.5,454.7 550.8,455.8 551.0,456.2 551.2,456.5 551.5,455.9 551.8,456.8 552.0,456.8 552.2,454.7 552.5,455.7 552.8,455.0 553.0,455.2 553.2,456.1 553.5,455.8 553.8,457.1 554.0,457.6 554.2,456.3 554.5,455.8 554.8,455.8 555.0,455.9 555.2,456.4 555.5,455.4 555.8,456.4 556.0,455.8 556.2,456.8 556.5,457.0 556.8,457.3 557.0,455.8 557.2,454.9 557.5,454.6 557.8,455.7 558.0,454.8 558.2,454.7 558.5,455.7 558.8,455.2 559.0,456.5 559.2,457.5 559.5,455.8 559.8,456.2 560.0,454.7 560.2,456.1 560.5,455.4 560.8,455.1 561.0,454.5 561.2,457.2 561.5,454.7 561.8,455.0 562.0,455.9 562.2,456.1 562.5,456.1 562.8,456.0 563.0,455.2 563.2,456.5 563.5,456.0 563.8,454.8 564.0,457.1 564.2,455.6 564.5,456.6 564.8,454.7 565.0,454.9 565.2,455.4 565.5,455.3 565.8,456.6 566.0,454.5 566.2,455.9 566.5,455.0 566.8,456.2 567.0,455.9 567.2,455.3 567.5,457.4 567.8,455.6 568.0,456.5 568.2,454.5 568.5,455.4 568.8,455.5 569.0,455.5 569.2,455.1 569.5,454.6 569.8,452.7 570.0,454.6 570.2,454.2 570.5,454.5 570.8,455.2 571.0,456.0 571.2,454.3 571.5,454.2 571.8,453.2 572.0,452.1 572.2,450.1 572.5,446.9 572.8,443.9 573.0,441.6 573.2,441.4 573.5,441.1 573.8,443.9 574.0,444.5 574.2,448.3 574.5,450.3 574.8,451.6 575.0,450.7 575.2,450.6 575.5,450.2 575.8,451.1 576.0,452.4 576.2,449.1 576.5,445.2 576.8,442.7 577.0,438.2 577.2,435.8 577.5,435.0 577.8,436.9 578.0,441.6 578.2,446.5 578.5,449.3 578.8,452.1 579.0,451.6 579.2,454.0 579.5,453.8 579.8,454.3 580.0,455.4 580.2,454.6 580.5,455.1 580.8,455.5 581.0,455.7 581.2,455.9 581.5,456.4 581.8,455.8 582.0,455.2 582.2,457.5 582.5,455.6 582.8,456.0 583.0,455.1 583.2,454.0 583.5,455.2 583.8,455.8 584.0,456.2 584.2,455.9 584.5,456.5 584.8,456.7 585.0,456.7 585.2,455.9 585.5,456.0 585.8,455.8 586.0,455.3 586.2,457.1 586.5,455.0 586.8,455.9 587.0,456.2 587.2,454.3 587.5,456.6 587.8,455.8 588.0,456.2 588.2,455.8 588.5,454.9 588.8,456.2 589.0,456.1 589.2,456.8 589.5,456.4 589.8,454.8 590.0,456.9 590.2,456.7 590.5,456.7 590.8,456.5 591.0,455.6 591.2,456.5 591.5,455.8 591.8,458.4 592.0,455.9 592.2,455.3 592.5,455.9 592.8,457.2 593.0,455.7 593.2,454.2 593.5,457.3 593.8,456.4 594.0,455.7 594.2,456.7 594.5,455.4 594.8,455.2 595.0,456.9 595.2,455.7 595.5,456.6 595.8,456.2 596.0,456.8 596.2,456.2 596.5,454.6 596.8,456.7 597.0,455.8 597.2,456.8 597.5,456.2 597.8,457.3 598.0,455.9 598.2,454.6 598.5,455.9 598.8,456.6 599.0,455.9 599.2,455.8 599.5,457.3 599.8,456.1 600.0,457.0 600.2,456.3 600.5,455.0 600.8,455.4 601.0,455.9 601.2,456.4 601.5,455.5 601.8,455.1 602.0,455.4 602.2,455.8 602.5,455.5 602.8,455.7 603.0,457.6 603.2,456.4 603.5,455.5 603.8,456.2 604.0,457.4 604.2,456.7 604.5,456.1 604.8,455.1 605.0,454.9 605.2,455.9 605.5,456.1 605.8,454.9 606.0,455.1 606.2,456.2 606.5,454.5 606.8,454.9 607.0,456.1 607.2,456.6 607.5,456.4 607.8,457.0 608.0,457.4 608.2,456.9 608.5,456.0 608.8,457.8 609.0,457.5 609.2,456.9 609.5,455.6 609.8,456.5 610.0,454.6 610.2,455.9 610.5,454.3 610.8,455.9 611.0,457.0 611.2,456.2 611.5,457.4 611.8,456.2 612.0,456.3 612.2,456.0 612.5,456.6 612.8,456.2 613.0,457.1 613.2,457.4 613.5,456.5 613.8,455.3 614.0,456.6 614.2,457.2 614.5,456.7 614.8,456.4 615.0,456.9 615.2,457.2 615.5,454.1 615.8,457.3 616.0,456.7 616.2,456.5 616.5,455.7 616.8,456.2 617.0,456.5 617.2,454.9 617.5,456.6 617.8,456.0 618.0,457.0 618.2,456.3 618.5,455.6 618.8,455.6 619.0,455.9 619.2,455.3 619.5,455.1 619.8,453.5 620.0,452.1 620.2,451.5 620.5,450.0 620.8,450.2 621.0,451.6 621.2,451.1 621.5,452.5 621.8,454.9 622.0,454.5 622.2,455.3 622.5,454.6 622.8,454.9 623.0,455.5 623.2,457.1 623.5,456.3 623.8,454.7 624.0,456.4 624.2,456.8 624.5,456.6 624.8,455.1 625.0,456.1 625.2,457.8 625.5,455.4 625.8,456.4 626.0,455.6 626.2,455.2 626.5,455.8 626.8,457.0 627.0,457.1 627.2,455.5 627.5,455.8 627.8,455.5 628.0,454.6 628.2,456.7 628.5,457.4 628.8,457.4 629.0,455.8 629.2,457.2 629.5,457.1 629.8,456.0 630.0,456.2 630.2,455.9 630.5,456.4 630.8,457.6 631.0,455.5 631.2,455.3 631.5,456.9 631.8,456.2 632.0,454.7 632.2,455.4 632.5,455.5 632.8,455.7 633.0,456.4 633.2,456.9 633.5,456.0 633.8,456.2 634.0,455.5 634.2,456.9 634.5,457.1 634.8,455.9 635.0,455.5 635.2,457.6 635.5,456.7 635.8,455.2 636.0,454.5 636.2,455.5 636.5,456.6 636.8,455.1 637.0,455.2 637.2,454.8 637.5,455.3 637.8,455.4 638.0,452.5 638.2,452.0 638.5,450.6 638.8,448.8 639.0,447.5 639.2,449.2 639.5,449.7 639.8,451.6 640.0,453.7 640.2,453.4 640.5,454.9 640.8,454.6 641.0,455.2 641.2,455.7 641.5,455.5 641.8,454.5 642.0,457.0 642.2,456.0 642.5,455.1 642.8,454.3 643.0,456.0 643.2,456.6 643.5,456.9 643.8,457.0 644.0,455.8 644.2,456.7 644.5,455.0 644.8,456.3 645.0,456.9 645.2,455.7 645.5,456.1 645.8,456.3 646.0,456.3 646.2,457.4 646.5,455.4 646.8,457.3 647.0,455.3 647.2,455.7 647.5,455.7 647.8,456.2 648.0,455.9 648.2,456.6 648.5,456.3 648.8,458.0 649.0,456.6 649.2,456.1 649.5,456.6 649.8,456.7 650.0,456.1 650.2,455.4 650.5,455.6 650.8,456.4 651.0,456.9 651.2,456.6 651.5,456.2 651.8,456.6 652.0,455.8 652.2,456.4 652.5,457.2 652.8,457.0 653.0,457.1 653.2,455.7 653.5,456.1 653.8,455.1 654.0,456.4 654.2,455.1 654.5,454.0 654.8,454.1 655.0,454.0 655.2,451.5 655.5,451.8 655.8,453.9 656.0,453.8 656.2,454.4 656.5,453.8 656.8,456.7 657.0,456.5 657.2,456.4 657.5,455.1 657.8,456.5 658.0,457.0 658.2,455.9 658.5,456.0 658.8,455.8 659.0,456.7 659.2,456.0 659.5,456.0 659.8,455.1 660.0,455.0 660.2,457.0 660.5,457.5 660.8,456.9 661.0,457.4 661.2,455.9 661.5,456.3 661.8,456.6 662.0,456.2 662.2,457.6 662.5,455.3 662.8,455.9 663.0,456.0 663.2,455.8 663.5,456.9 663.8,454.8 664.0,457.2 664.2,457.0 664.5,456.5 664.8,457.4 665.0,458.1 665.2,456.4 665.5,456.8 665.8,456.6 666.0,456.7 666.2,455.9 666.5,455.7 666.8,456.7 667.0,455.8 667.2,456.9 667.5,456.8 667.8,455.9 668.0,456.5 668.2,456.2 668.5,456.1 668.8,457.0 669.0,456.1 669.2,456.3 669.5,454.6 669.8,456.5 670.0,454.9 670.2,455.6 670.5,457.1 670.8,457.2 671.0,455.4 671.2,454.6 671.5,455.8 671.8,455.0 672.0,455.4 672.2,453.8 672.5,455.4 672.8,455.2 673.0,452.1 673.2,451.4 673.5,449.5 673.8,448.0 674.0,442.9" fill="none" stroke="#b4580f" stroke-width="2.9" stroke-linejoin="round"/>
<g stroke="#000" stroke-width="1.6"><line x1="96.0" y1="497.7" x2="96.0" y2="488.9"/><line x1="178.6" y1="497.7" x2="178.6" y2="488.9"/><line x1="261.1" y1="497.7" x2="261.1" y2="488.9"/><line x1="343.7" y1="497.7" x2="343.7" y2="488.9"/><line x1="426.2" y1="497.7" x2="426.2" y2="488.9"/><line x1="508.8" y1="497.7" x2="508.8" y2="488.9"/><line x1="591.3" y1="497.7" x2="591.3" y2="488.9"/><line x1="673.9" y1="497.7" x2="673.9" y2="488.9"/><line x1="137.3" y1="497.7" x2="137.3" y2="492.7"/><line x1="219.8" y1="497.7" x2="219.8" y2="492.7"/><line x1="302.4" y1="497.7" x2="302.4" y2="492.7"/><line x1="384.9" y1="497.7" x2="384.9" y2="492.7"/><line x1="467.5" y1="497.7" x2="467.5" y2="492.7"/><line x1="550.0" y1="497.7" x2="550.0" y2="492.7"/><line x1="632.6" y1="497.7" x2="632.6" y2="492.7"/><line x1="55.0" y1="462.5" x2="64.0" y2="462.5"/><line x1="55.0" y1="391.6" x2="64.0" y2="391.6"/><line x1="55.0" y1="320.6" x2="64.0" y2="320.6"/><line x1="55.0" y1="249.7" x2="64.0" y2="249.7"/><line x1="55.0" y1="178.8" x2="64.0" y2="178.8"/><line x1="55.0" y1="107.8" x2="64.0" y2="107.8"/><line x1="55.0" y1="36.9" x2="64.0" y2="36.9"/><line x1="55.0" y1="427.0" x2="59.0" y2="427.0"/><line x1="55.0" y1="356.1" x2="59.0" y2="356.1"/><line x1="55.0" y1="285.2" x2="59.0" y2="285.2"/><line x1="55.0" y1="214.2" x2="59.0" y2="214.2"/><line x1="55.0" y1="143.3" x2="59.0" y2="143.3"/><line x1="55.0" y1="72.4" x2="59.0" y2="72.4"/></g>
<line x1="55.0" y1="1.35" x2="55.0" y2="497.7" stroke="#000" stroke-width="2.1"/>
<line x1="54.0" y1="497.7" x2="674.5999999999999" y2="497.7" stroke="#000" stroke-width="2"/>
<line x1="55.0" y1="1.35" x2="673.8" y2="1.35" stroke="#000" stroke-width="1.6"/>
<rect x="54.0" y="0" width="620.5999999999999" height="0.6" fill="#999"/>
<line x1="673.8" y1="1.35" x2="673.8" y2="497.7" stroke="#000" stroke-width="1.7"/>
<g><polygon points="97.9,6.6 107.3,23.0 88.5,23.0" fill="#000"/><polygon points="99.20,38.60 101.50,45.23 108.52,45.37 102.93,49.61 104.96,56.33 99.20,52.32 93.44,56.33 95.47,49.61 89.88,45.37 96.90,45.23" fill="#000"/><rect x="89.9" y="69.7" width="14.8" height="14.8" fill="#dcf2fe" stroke="#000" stroke-width="1.6"/><polygon points="96.10,103.10 97.86,108.17 103.23,108.28 98.95,111.53 100.51,116.67 96.10,113.60 91.69,116.67 93.25,111.53 88.97,108.28 94.34,108.17" fill="#e6f6ff" stroke="#000" stroke-width="1.6" stroke-linejoin="miter"/><polygon points="85.8,130.4 105.8,130.4 95.8,147.7" fill="#000"/><rect x="110.7" y="397.8" width="14.7" height="14.7" fill="#dcf2fe" stroke="#000" stroke-width="1.6"/><polygon points="118.40,378.40 120.33,383.95 126.20,384.07 121.52,387.61 123.22,393.23 118.40,389.88 113.58,393.23 115.28,387.61 110.60,384.07 116.47,383.95" fill="#e6f6ff" stroke="#000" stroke-width="1.6" stroke-linejoin="miter"/><polygon points="176.0,415.3 186.1,432.9 165.9,432.9" fill="#000"/><polygon points="185.50,337.30 187.95,344.33 195.39,344.49 189.46,348.99 191.61,356.11 185.50,351.86 179.39,356.11 181.54,348.99 175.61,344.49 183.05,344.33" fill="#000"/><polygon points="219.00,405.50 220.93,411.05 226.80,411.17 222.12,414.71 223.82,420.33 219.00,416.98 214.18,420.33 215.88,414.71 211.20,411.17 217.07,411.05" fill="#e6f6ff" stroke="#000" stroke-width="1.6" stroke-linejoin="miter"/><polygon points="235.60,48.20 237.97,55.03 245.21,55.18 239.44,59.55 241.54,66.47 235.60,62.34 229.66,66.47 231.76,59.55 225.99,55.18 233.23,55.03" fill="#000"/><rect x="240.7" y="412.9" width="14.9" height="14.9" fill="#dcf2fe" stroke="#000" stroke-width="1.6"/><rect x="309.0" y="415.3" width="15.0" height="15.0" fill="#dcf2fe" stroke="#000" stroke-width="1.6"/><polygon points="340.5,412.1 350.6,430.4 330.4,430.4" fill="#000"/><rect x="357.8" y="413.9" width="14.8" height="14.8" fill="#dcf2fe" stroke="#000" stroke-width="1.6"/><polygon points="392.60,426.30 394.53,431.85 400.40,431.97 395.72,435.51 397.42,441.13 392.60,437.78 387.78,441.13 389.48,435.51 384.80,431.97 390.67,431.85" fill="#e6f6ff" stroke="#000" stroke-width="1.6" stroke-linejoin="miter"/><polygon points="428.80,407.40 431.25,414.43 438.69,414.59 432.76,419.09 434.91,426.21 428.80,421.96 422.69,426.21 424.84,419.09 418.91,414.59 426.35,414.43" fill="#000"/><polygon points="468.50,415.70 470.43,421.25 476.30,421.37 471.62,424.91 473.32,430.53 468.50,427.18 463.68,430.53 465.38,424.91 460.70,421.37 466.57,421.25" fill="#e6f6ff" stroke="#000" stroke-width="1.6" stroke-linejoin="miter"/><polygon points="510.40,410.90 512.85,417.93 520.29,418.09 514.36,422.59 516.51,429.71 510.40,425.46 504.29,429.71 506.44,422.59 500.51,418.09 507.95,417.93" fill="#000"/><polygon points="519.5,428.0 539.5,428.0 529.5,445.0" fill="#000"/><polygon points="578.80,417.60 581.25,424.63 588.69,424.79 582.76,429.29 584.91,436.41 578.80,432.16 572.69,436.41 574.84,429.29 568.91,424.79 576.35,424.63" fill="#000"/><polygon points="628.9,427.6 648.9,427.6 638.9,445.0" fill="#000"/></g>
<g font-size="23px"><text x="96.0" y="526" text-anchor="middle">10</text><text x="178.6" y="526" text-anchor="middle">20</text><text x="261.1" y="526" text-anchor="middle">30</text><text x="343.7" y="526" text-anchor="middle">40</text><text x="426.2" y="526" text-anchor="middle">50</text><text x="508.8" y="526" text-anchor="middle">60</text><text x="591.3" y="526" text-anchor="middle">70</text><text x="674.1" y="526" text-anchor="middle">80</text><text x="45.8" y="469.8" text-anchor="end">0</text><text x="45.8" y="398.9" text-anchor="end">1</text><text x="45.8" y="327.9" text-anchor="end">2</text><text x="45.8" y="257.0" text-anchor="end">3</text><text x="45.8" y="186.1" text-anchor="end">4</text><text x="45.8" y="115.1" text-anchor="end">5</text><text x="45.8" y="44.2" text-anchor="end">6</text></g>
<g font-size="23px">
<text x="119.2" y="22.8" font-size="23.5px">Potassium feldspar</text>
<text x="122.4" y="54.7" font-size="25.9px">Quartz</text>
<text x="119.8" y="85.2" font-size="23.85px">plagioclase</text>
<text x="119.5" y="118.6" font-size="25.8px">Kaolinite</text>
<text x="119.4" y="147.8" font-size="25.7px">Hematite</text>
</g>
<g font-size="19.4px">
<text x="243.1" y="97.4">Potassium feldspar</text>
<text x="393.4" y="87.9">Hematite</text>
<text x="465.3" y="130.4">Viscous minerals</text>
<text x="393.4" y="151.7">Kaolinite</text>
<text x="380" y="180.3">Plagioclase</text>
<text x="558" y="209.4">Quartz</text>
</g>
<g font-size="18.8px">
<text x="466.5" y="97.7">7.4%</text>
<text x="420.6" y="105">2.1%</text>
<text x="380" y="114">3.6%</text>
<text x="352.5" y="135.3">5.3%</text>
<text x="323.6" y="179.5">11.3%</text>
<text x="623" y="273.8">70.2%</text>
</g>
<text transform="translate(22.6,344.4) rotate(-90)" font-size="25px"><tspan x="-0.4" font-size="25.8px">Intensity/</tspan><tspan x="96.2">(</tspan><tspan x="106" font-size="28px" font-weight="bold" dy="0.8">×</tspan><tspan x="122.5" dy="-0.8">10</tspan><tspan x="147.3" font-size="18.5px" dy="-9.5">4</tspan><tspan x="157.2" dy="9.5">s</tspan><tspan x="168.2" font-size="15.5px" dy="-11">-</tspan><tspan x="172.6" font-size="15.5px">1</tspan><tspan x="181.2" dy="11">)</tspan></text>
<text x="341.3" y="566.4" font-size="24.8px"><tspan font-style="italic">θ</tspan>/(°)</text>
</svg>
</body></html>
